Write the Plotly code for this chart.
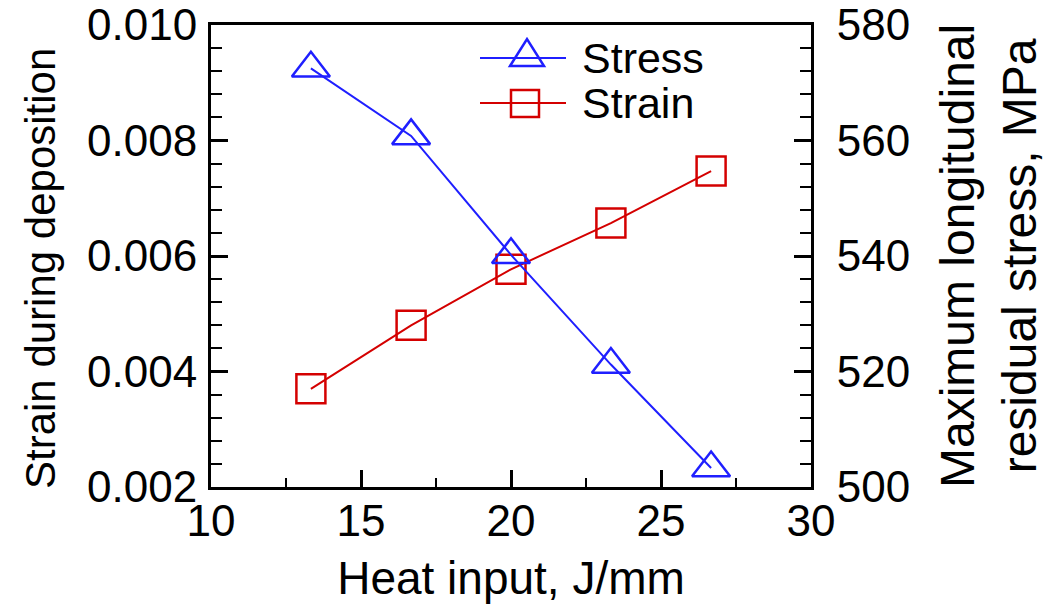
import plotly.graph_objects as go

heat_input = [13.33, 16.67, 20.0, 23.33, 26.67]
stress_mpa = [572.5, 560.8, 540.2, 521.2, 503.3]
strain = [0.0037, 0.0048, 0.00577, 0.00657, 0.00747]

legend_names = ["Stress", "Strain"]

FONT = "Arial, Liberation Sans, sans-serif"
BLUE = "#1f1fff"
RED = "#d40000"

W, H = 1046, 604
PX0, PX1, PY0, PY1 = 211, 811, 25, 487


def px(xp):
    return (xp - PX0) / (PX1 - PX0)


def py(yp):
    return (PY1 - yp) / (PY1 - PY0)


fig = go.Figure()
fig.add_trace(go.Scatter(
    x=heat_input, y=stress_mpa, name=legend_names[0], yaxis="y2",
    mode="lines+markers", showlegend=False,
    line=dict(color=BLUE, width=2),
    marker=dict(symbol="triangle-up-open", size=33, color=BLUE, line=dict(width=2.5, color=BLUE)),
))
fig.add_trace(go.Scatter(
    x=heat_input, y=strain, name=legend_names[1], yaxis="y",
    mode="lines+markers", showlegend=False,
    line=dict(color=RED, width=2),
    marker=dict(symbol="square-open", size=29, color=RED, line=dict(width=2.5, color=RED)),
))

axis_common = dict(
    showgrid=False, zeroline=False, showline=True, linecolor="black", linewidth=3,
    ticks="inside", ticklen=17, tickwidth=2.5, tickcolor="black",
    tickfont=dict(family=FONT, size=44, color="black"),
    ticklabeloverflow="allow",
)

# custom legend (long sample lines with symbol in the middle)
shapes = []
annotations = []
shapes.append(dict(type="line", xref="paper", yref="paper",
                   x0=px(480), x1=px(566), y0=py(58), y1=py(58),
                   line=dict(color=BLUE, width=2)))
shapes.append(dict(type="path", xref="paper", yref="paper",
                   path=f"M {px(510)},{py(66)} L {px(544)},{py(66)} L {px(527)},{py(39)} Z",
                   line=dict(color=BLUE, width=2.5), fillcolor="rgba(0,0,0,0)"))
shapes.append(dict(type="line", xref="paper", yref="paper",
                   x0=px(480), x1=px(566), y0=py(103), y1=py(103),
                   line=dict(color=RED, width=2)))
shapes.append(dict(type="rect", xref="paper", yref="paper",
                   x0=px(511), x1=px(539), y0=py(117), y1=py(90),
                   line=dict(color=RED, width=2.5), fillcolor="rgba(0,0,0,0)"))
annotations.append(dict(text=legend_names[0], xref="paper", yref="paper",
                        x=px(580), y=py(58), xanchor="left", yanchor="middle",
                        showarrow=False, font=dict(family=FONT, size=43, color="black")))
annotations.append(dict(text=legend_names[1], xref="paper", yref="paper",
                        x=px(580), y=py(103), xanchor="left", yanchor="middle",
                        showarrow=False, font=dict(family=FONT, size=43, color="black")))

# y-axis titles as annotations
annotations.append(dict(text="Strain during deposition", xref="paper", yref="paper",
                        x=px(40), y=py(269), xanchor="center", yanchor="middle",
                        textangle=-90, showarrow=False,
                        font=dict(family=FONT, size=42, color="black")))
annotations.append(dict(text="Maximum longitudinal<br>residual stress, MPa", xref="paper", yref="paper",
                        x=px(988), y=py(256), xanchor="center", yanchor="middle",
                        textangle=-90, showarrow=False,
                        font=dict(family=FONT, size=48, color="black")))

fig.update_layout(
    width=W, height=H,
    margin=dict(l=PX0, r=W - PX1, t=PY0, b=H - PY1, autoexpand=False),
    paper_bgcolor="white", plot_bgcolor="white",
    font=dict(family=FONT, color="black"),
    xaxis=dict(
        range=[10, 30], dtick=5, tick0=10, mirror=True,
        minor=dict(dtick=2.5, ticklen=9, tickwidth=2, tickcolor="black", ticks="inside"),
        title=dict(text="Heat input, J/mm", font=dict(family=FONT, size=46), standoff=19),
        ticklabelstandoff=-7,
        **axis_common,
    ),
    yaxis=dict(
        range=[0.002, 0.0100001], dtick=0.002, tick0=0.002, tickformat=".3f",
        minor=dict(dtick=0.0004, ticklen=11, tickwidth=2, tickcolor="black", ticks="inside"),
        ticklabelstandoff=2,
        **axis_common,
    ),
    yaxis2=dict(
        range=[500, 580.001], dtick=20, tick0=500, overlaying="y", side="right",
        minor=dict(dtick=4, ticklen=11, tickwidth=2, tickcolor="black", ticks="inside"),
        ticklabelstandoff=14,
        **axis_common,
    ),
    shapes=shapes,
    annotations=annotations,
    showlegend=False,
)

fig.write_html(
    "out.html",
    config={"displayModeBar": False},
    post_script="document.body.style.margin='0';document.body.style.overflow='hidden';",
)
